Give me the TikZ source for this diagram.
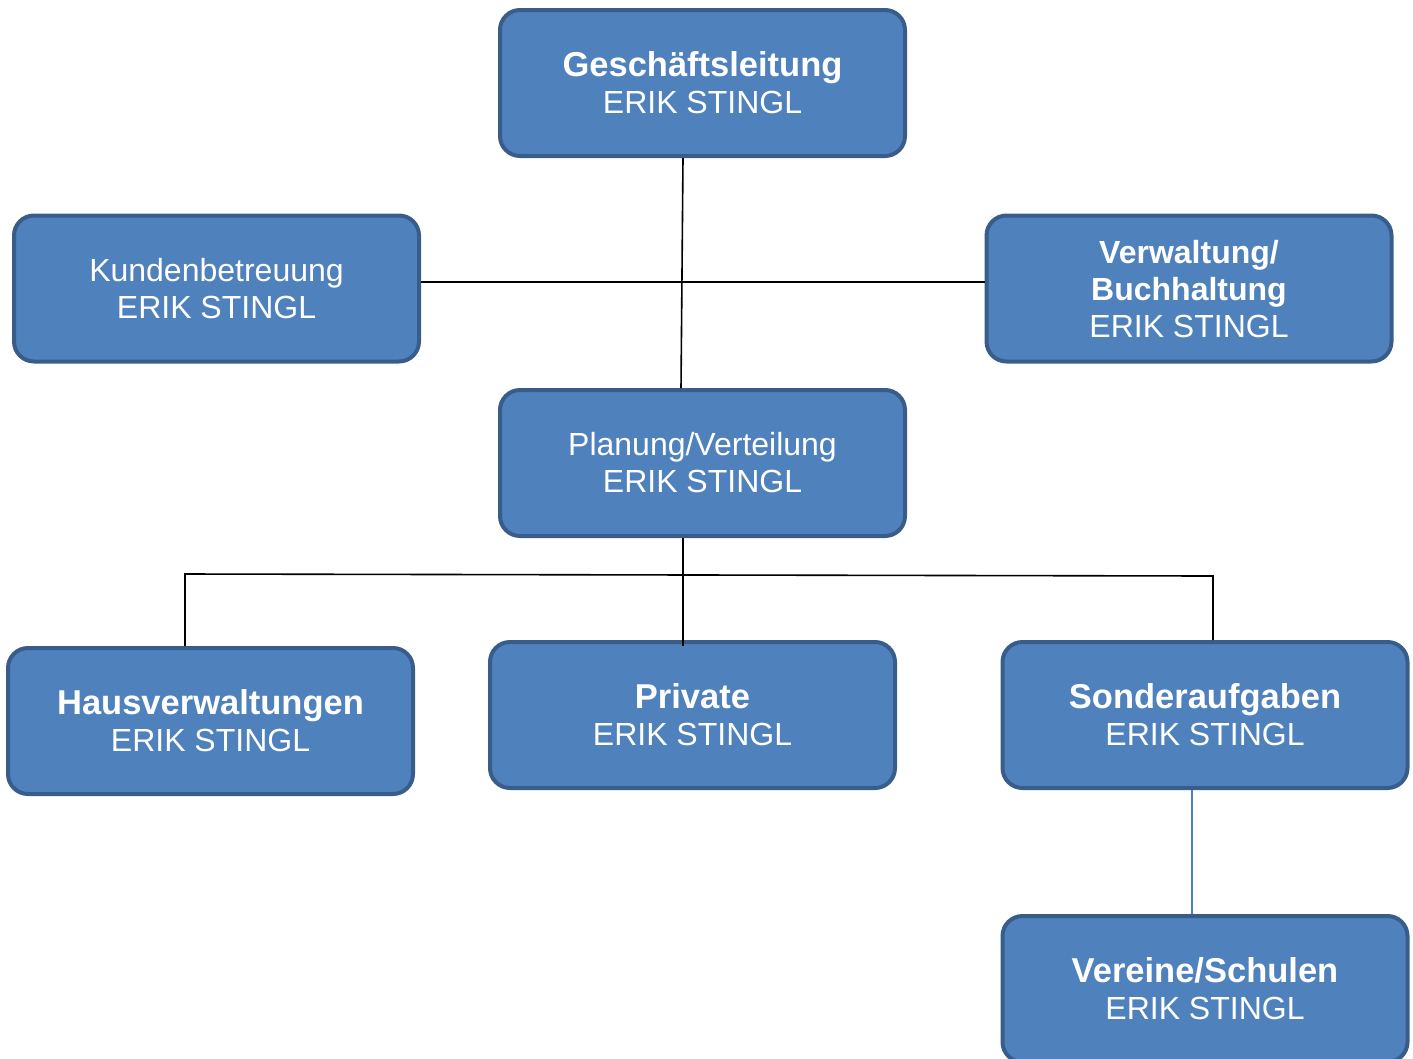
\documentclass[tikz,border=0pt]{standalone}
\usepackage{fontspec}
\setmainfont{Liberation Sans}
\usetikzlibrary{calc}
\definecolor{boxfill}{HTML}{4F81BD}
\definecolor{boxline}{HTML}{385D8A}
\newcommand\orgttl[1]{{\fontsize{34.5}{37}\selectfont\bfseries #1}}
\newcommand\orgttlsm[1]{{\fontsize{32}{37}\selectfont\bfseries #1}}
\begin{document}
\begin{tikzpicture}[x=1pt,y=-1pt,
  orgbox/.style={draw=boxline, fill=boxfill, line width=4pt, rounded corners=20pt,
    minimum width=405pt, minimum height=146pt, inner sep=0pt, align=center,
    text=white, font=\fontsize{32}{37}\selectfont},
  conn/.style={draw=black, line width=1.6pt},
  bconn/.style={draw=boxfill, line width=1.6pt}]
\useasboundingbox (0,0) rectangle (1413,1058);
\node[orgbox] (ges) at (702.5,83) {\orgttl{Geschäftsleitung}\\ERIK STINGL};
\node[orgbox] (kd) at (216.5,288.5) {Kundenbetreuung\\ERIK STINGL};
\node[orgbox, text depth=-2pt] (vw) at (1189,288.5) {\orgttlsm{Verwaltung/}\\\orgttlsm{Buchhaltung}\\ERIK STINGL};
\node[orgbox] (plan) at (702.5,463) {Planung/Verteilung\\ERIK STINGL};
\node[orgbox] (haus) at (210.5,721) {\orgttl{Hausverwaltungen}\\ERIK STINGL};
\node[orgbox] (priv) at (692.5,715) {\orgttl{Private}\\ERIK STINGL};
\node[orgbox] (sond) at (1205,715) {\orgttl{Sonderaufgaben}\\ERIK STINGL};
\node[orgbox] (ver) at (1205,989) {\orgttl{Vereine/Schulen}\\ERIK STINGL};
% connectors
\draw[conn] ($(ges.south)+(-19.5,0)$) -- ($(plan.north)+(-21.5,0)$);
\draw[conn] ($(kd.east)+(0,-6.5)$) -- ($(vw.west)+(0,-6.5)$);
\coordinate (jl) at (185,574);
\coordinate (jr) at (1213,576);
\draw[conn] ($(plan.south)+(-19.5,0)$) -- ($(priv.north)+(-9.5,6)$);
\draw[conn] ($(haus.north)+(-25.5,0)$) -- (jl) -- (jr) -- ($(sond.north)+(8,0)$);
\draw[bconn] ($(sond.south)+(-13,0)$) -- ($(ver.north)+(-13,0)$);
\end{tikzpicture}
\end{document}
